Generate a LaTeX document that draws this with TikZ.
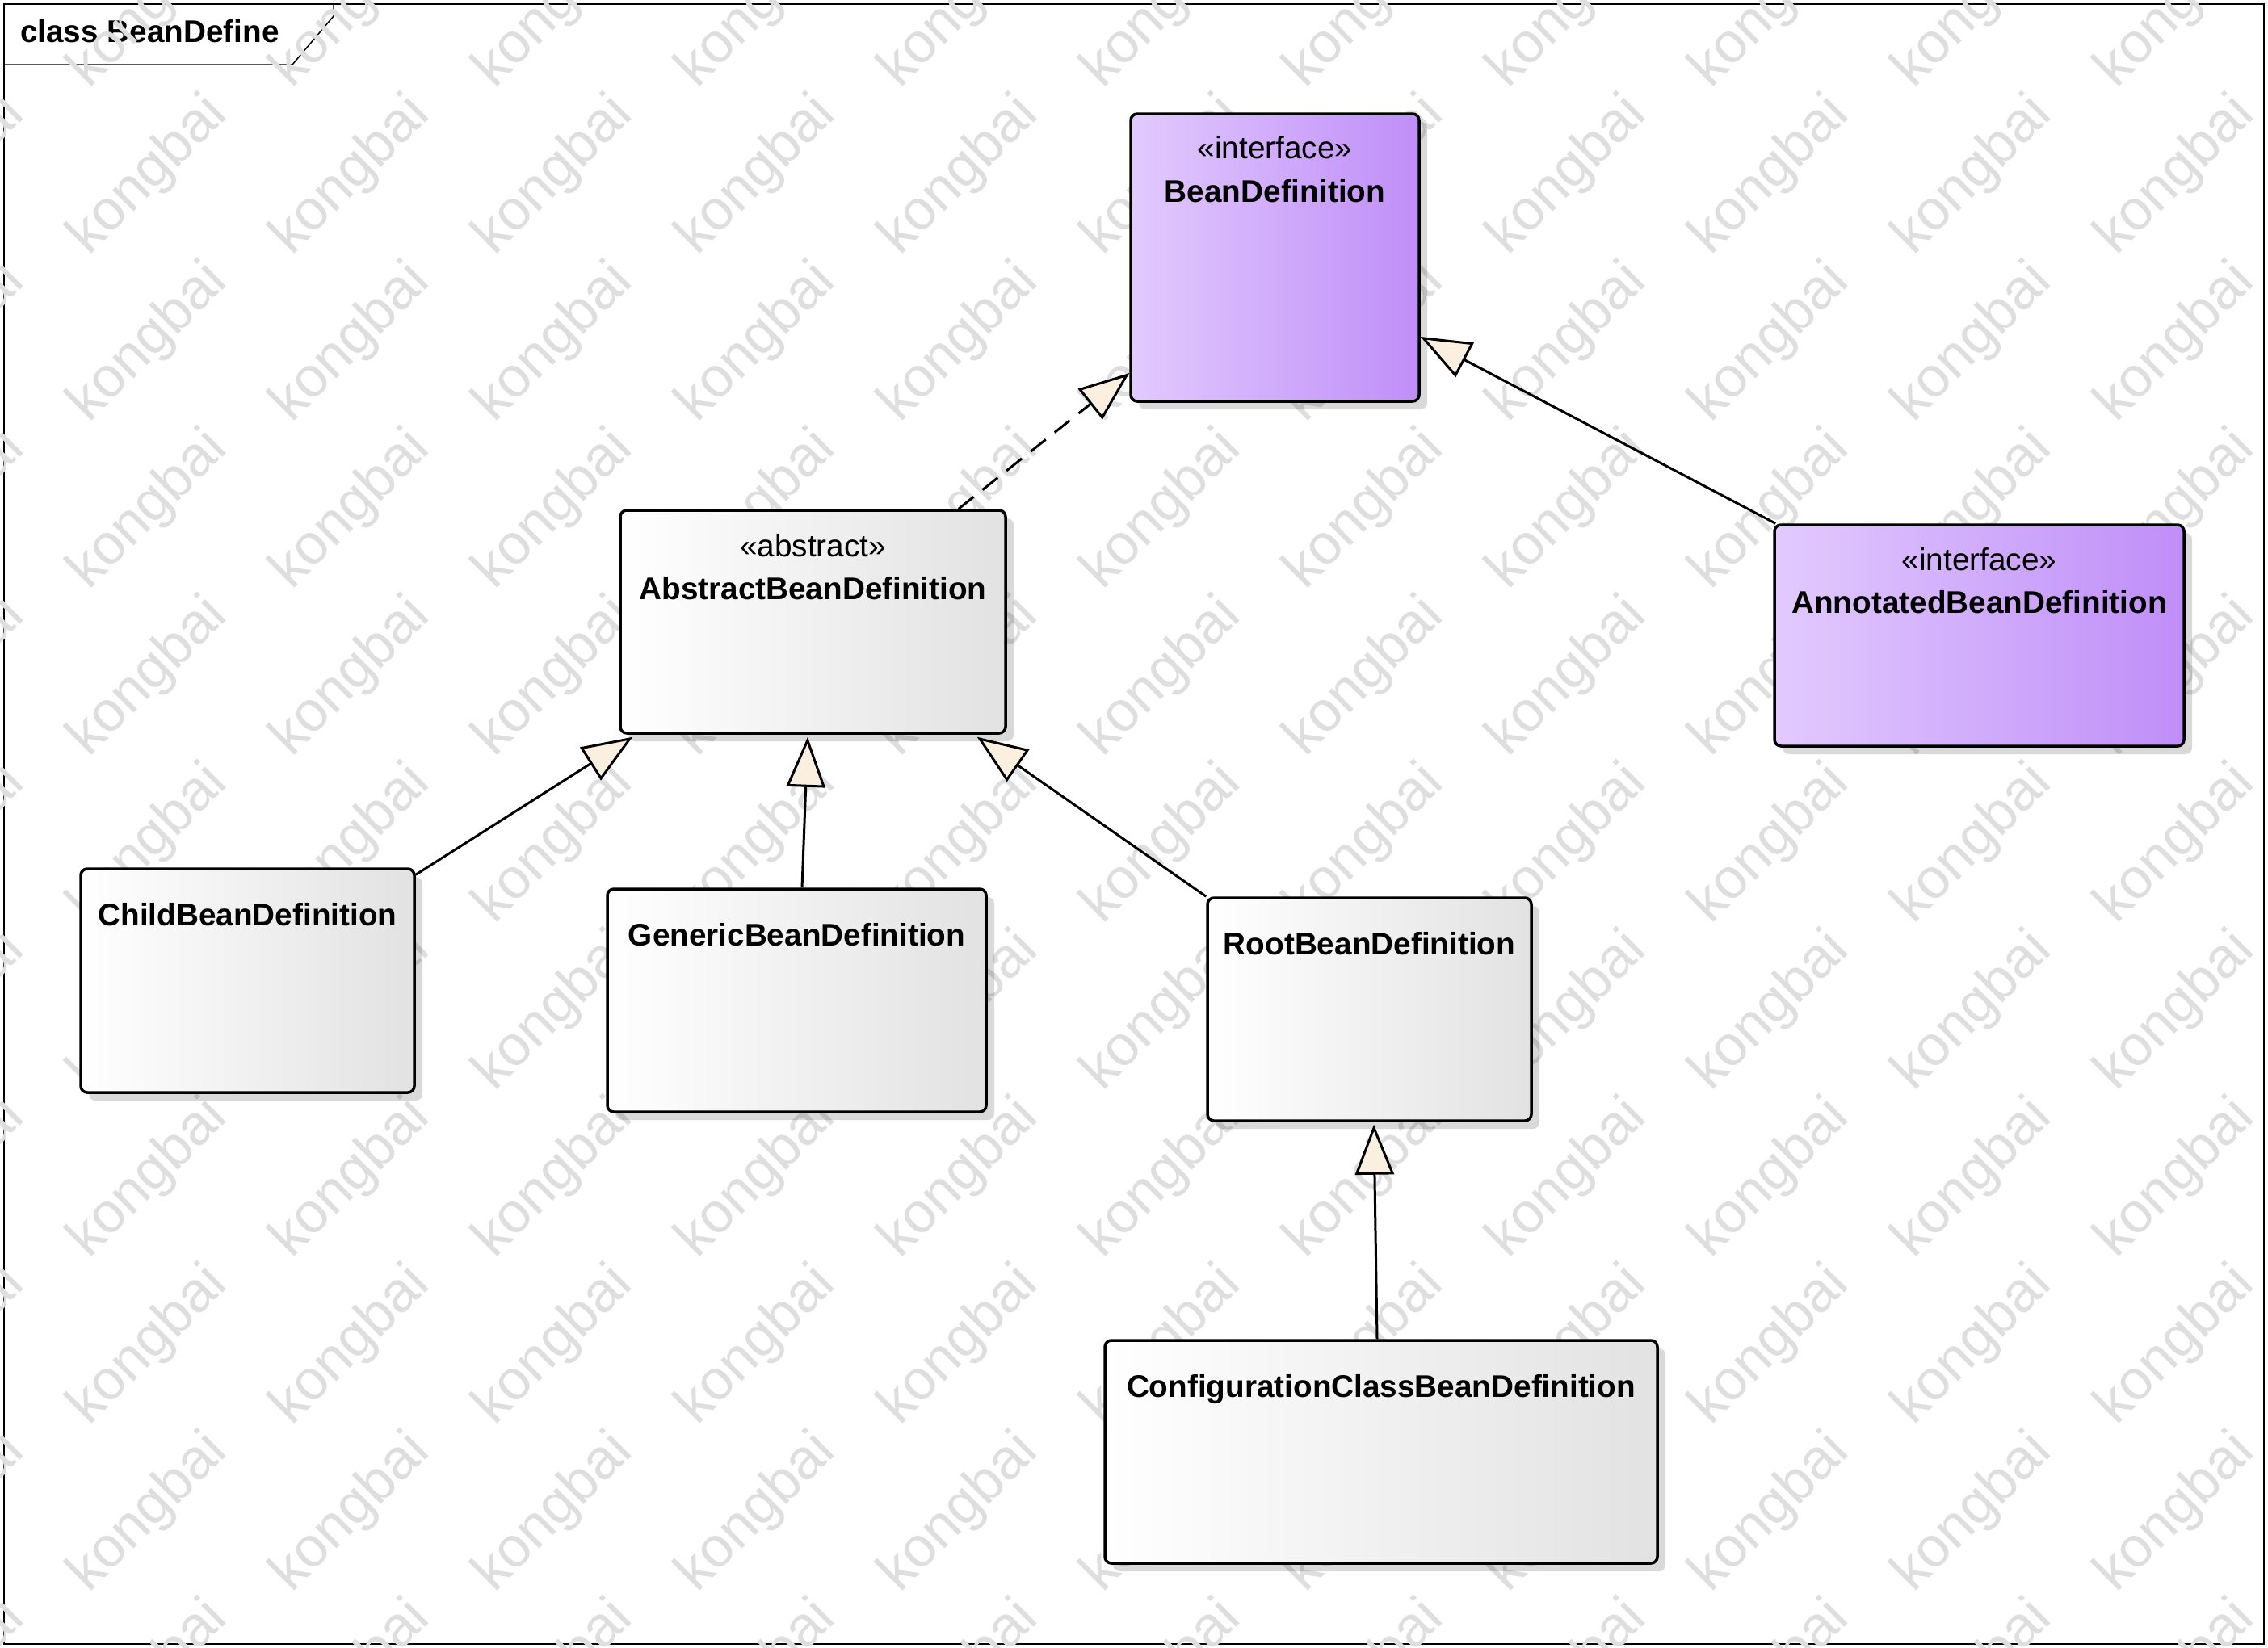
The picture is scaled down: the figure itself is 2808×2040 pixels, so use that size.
\documentclass[tikz,border=0pt]{standalone}
\usepackage{fontspec}
\setmainfont{Liberation Sans}
\usetikzlibrary{arrows.meta,shadows,calc}
\definecolor{cream}{RGB}{251,240,224}
\definecolor{purpleL}{RGB}{226,202,254}
\definecolor{purpleR}{RGB}{191,142,248}
\definecolor{boxgray}{RGB}{226,226,226}
\definecolor{wmgray}{RGB}{222,222,222}
\newcommand\bnfont{\fontsize{38.7}{46}\selectfont\bfseries}
\newcommand\stfont{\fontsize{38.7}{46}\selectfont}
\newcommand\wmfont{\fontsize{70}{80}\selectfont}
\begin{document}
\begin{tikzpicture}[x=1pt,y=-1pt,
  box/.style={draw, line width=3.5pt, rounded corners=8pt, inner sep=0pt,
    drop shadow={shadow xshift=10pt, shadow yshift=-10pt, fill=black, opacity=0.15}},
  plainbox/.style={box, left color=white, right color=boxgray},
  ifbox/.style={box, left color=purpleL, right color=purpleR},
  stt/.style={anchor=base, inner sep=0pt, font=\stfont},
  nmt/.style={anchor=base, inner sep=0pt, font=\bnfont},
  wm/.style={font=\wmfont, text=wmgray, rotate=45, inner sep=0pt},
  genl/.style={line width=3pt, -{Triangle[length=62pt, width=48pt, fill=cream, line width=3pt]}},
  real/.style={genl, dash pattern=on 24pt off 14pt}]
\useasboundingbox (0,0) rectangle (2808,2040);
\fill[white] (0,0) rectangle (2808,2040);
% frame and title
\draw[line width=1.5pt] (5,5) rectangle (2803,2036);
\draw[line width=1.5pt] (5,80) -- (362,80) -- (413,20) -- (413,5);
\node[anchor=base west, inner sep=0pt, font=\bnfont] (title) at (25,52) {class BeanDefine};
% watermark
\foreach \k in {-1,...,10}{
  \foreach \m in {0,...,10}{
    \node[wm] (wm-\k-\m) at ({184+251*\k},{11+207*\m}) {kongbai};
  }
}
% boxes
\node[ifbox, minimum width=357pt, minimum height=356pt] (bean) at (1578.5,319) {};
\node[plainbox, minimum width=477pt, minimum height=276pt] (abs) at (1006.5,770) {};
\node[ifbox, minimum width=507pt, minimum height=274pt] (ann) at (2450.5,787) {};
\node[plainbox, minimum width=413pt, minimum height=277pt] (child) at (306.5,1214.5) {};
\node[plainbox, minimum width=469pt, minimum height=276pt] (gen) at (986.5,1239) {};
\node[plainbox, minimum width=401pt, minimum height=276pt] (root) at (1695.5,1250) {};
\node[plainbox, minimum width=684pt, minimum height=276pt] (conf) at (1710,1798) {};
% texts
\node[stt] (beanS) at ([yshift=-57pt]bean.north) {«interface»};
\node[nmt] (beanN) at ([yshift=-111pt]bean.north) {BeanDefinition};
\node[stt] (absS) at ([yshift=-59pt]abs.north) {«abstract»};
\node[nmt] (absN) at ([yshift=-112pt]abs.north) {AbstractBeanDefinition};
\node[stt] (annS) at ([yshift=-58pt]ann.north) {«interface»};
\node[nmt] (annN) at ([yshift=-111pt]ann.north) {AnnotatedBeanDefinition};
\node[nmt] (childN) at ([yshift=-72pt]child.north) {ChildBeanDefinition};
\node[nmt] (genN) at ([yshift=-72pt]gen.north) {GenericBeanDefinition};
\node[nmt] (rootN) at ([yshift=-72pt]root.north) {RootBeanDefinition};
\node[nmt] (confN) at ([yshift=-72pt]conf.north) {ConfigurationClassBeanDefinition};
% connectors
\draw[real] ([xshift=-60pt]abs.north east) -- ([yshift=-143pt]bean.west);
\draw[genl] ([xshift=3pt]ann.north west) -- ([yshift=-98pt]bean.east);
\draw[genl] ([yshift=-9pt]child.north east) -- ([xshift=17pt,yshift=-3pt]abs.south west);
\draw[genl] ([xshift=6.5pt]gen.north) -- ([xshift=-6.5pt,yshift=-3pt]abs.south);
\draw[genl] (root.north west) -- ([xshift=-37pt,yshift=-3pt]abs.south east);
\draw[genl] ([xshift=-5pt]conf.north) -- ([xshift=5.5pt,yshift=-3pt]root.south);
\end{tikzpicture}
\end{document}
